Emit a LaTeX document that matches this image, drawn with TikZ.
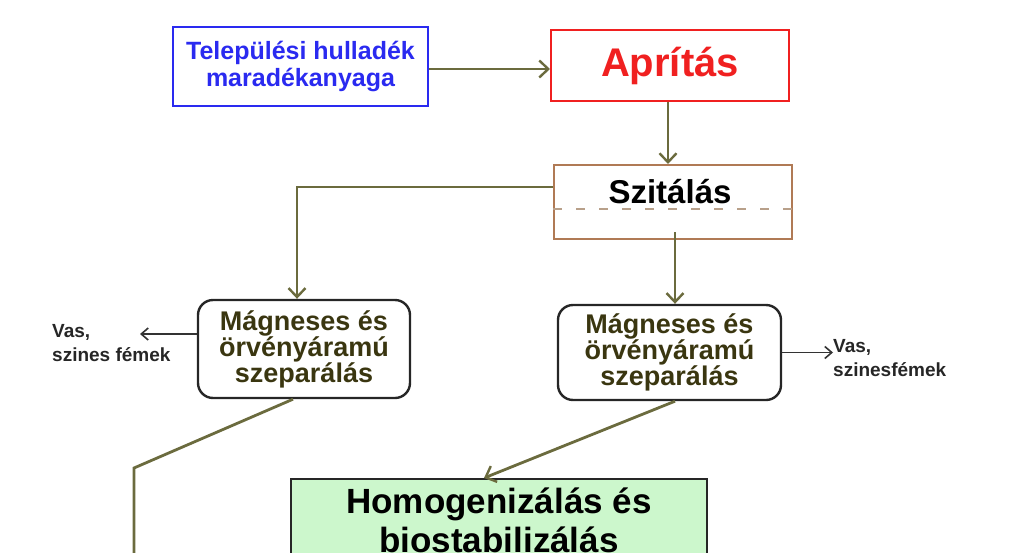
\documentclass[tikz,border=0pt]{standalone}
\usepackage{fontspec}
\setmainfont{Liberation Sans}
\usetikzlibrary{arrows.meta}
\definecolor{arrcol}{HTML}{6B6B3E}
\definecolor{bluec}{HTML}{2A2AF0}
\definecolor{redc}{HTML}{F02020}
\definecolor{brownc}{HTML}{B07A55}
\definecolor{dashc}{HTML}{B8A08A}
\definecolor{greenf}{HTML}{CCF7CC}
\definecolor{olivetext}{HTML}{3A3610}
\tikzset{
  arr/.style={draw=arrcol, line width=2.8pt, -{Straight Barb[length=9pt,width=17pt,line width=2.4pt]}},
  plainline/.style={draw=arrcol, line width=2.8pt},
  darr/.style={draw=black!80, line width=1.8pt, -{Straight Barb[length=7pt,width=12pt,line width=1.6pt]}},
  bluebox/.style={draw=bluec, line width=2pt, minimum width=255pt, minimum height=79pt, inner sep=0pt,
     font=\fontsize{25}{27}\selectfont\bfseries, text=bluec, align=center},
  redbox/.style={draw=redc, line width=2pt, minimum width=238pt, minimum height=71pt, inner sep=0pt,
     font=\fontsize{40}{44}\selectfont\bfseries, text=redc},
  sitbox/.style={draw=brownc, line width=2pt, minimum width=238pt, minimum height=74pt, inner sep=0pt},
  magbox/.style={draw=black!85, line width=2.4pt, rounded corners=15pt, inner sep=0pt,
     font=\fontsize{27}{26}\selectfont\bfseries, text=olivetext, align=center},
  vastext/.style={font=\fontsize{19}{24}\selectfont\bfseries, text=black!85, align=left, inner sep=0pt},
  homobox/.style={draw=black!85, fill=greenf, line width=2.4pt, minimum width=416pt, minimum height=150pt, inner sep=0pt},
}
\begin{document}
\begin{tikzpicture}[x=1pt,y=-1pt]
\useasboundingbox (0,0) rectangle (1023,552);
\node[bluebox] (src) at (300.5,66.5) {Települési hulladék\\maradékanyaga};
\node[redbox] (apr) at (670,65.5) {Aprítás};
\node[sitbox] (szi) at (673,202) {};
\node[font=\fontsize{33}{36}\selectfont\bfseries, inner sep=0pt] (szitext) at (670,192) {Szitálás};
\draw[dashc, line width=2pt, dash pattern=on 9pt off 14pt] ([yshift=-7pt]szi.west) -- ([yshift=-7pt]szi.east);
\node[magbox, minimum width=212pt, minimum height=98pt] (mL) at (304,349) {Mágneses és\\örvényáramú\\szeparálás};
\node[magbox, minimum width=223pt, minimum height=95pt] (mR) at (669.5,352.5) {Mágneses és\\örvényáramú\\szeparálás};
\node[homobox, anchor=north] (homo) at (499,478) {};
\node[font=\fontsize{35}{39}\selectfont\bfseries, align=center, anchor=north, inner sep=0pt] (homotext) at ([yshift=-10pt]homo.north) {Homogenizálás és\\biostabilizálás};
\node[vastext, anchor=west] (vasL) at (52,343) {Vas,\\szines fémek};
\node[vastext, anchor=west] (vasR) at (833,358) {Vas,\\szinesfémek};
\coordinate (tipL) at (140,334);
\coordinate (bend) at (297,187);
\coordinate (lowL) at (134,468);
\coordinate (offL) at (134,600);
% connectors
\draw[arr] (src.east |- 0,69) -- (apr.west |- 0,69);
\draw[arr] (apr.south -| 668,0) -- (szi.north -| 668,0);
\draw[arr] (szi.west |- bend) -- (bend) -- ([xshift=-7pt]mL.north);
\draw[arr] (675,232) -- (mR.north -| 675,0);
\draw[darr] (mL.west |- tipL) -- (tipL);
\draw[darr] (mR.east) -- (vasR.west |- mR.east);
\draw[plainline] (mL.south -| 293,0) -- (lowL) -- (offL);
\draw[arr] (mR.south -| 675,0) -- (homo.north -| 484,0);
\end{tikzpicture}
\end{document}
